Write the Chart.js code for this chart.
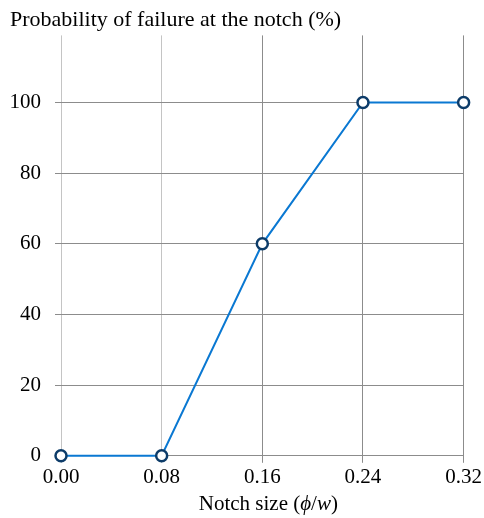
<!DOCTYPE html>
<html>
<head>
<meta charset="utf-8">
<script src="https://cdn.jsdelivr.net/npm/chart.js@4"></script>
<style>
  html, body { margin: 0; padding: 0; background: #fff; }
  #wrap { width: 484px; height: 518px; }
</style>
</head>
<body>
<div id="wrap"><canvas id="chart"></canvas></div>
<script>
// data
const notchSize = [0.00, 0.08, 0.16, 0.24, 0.32];
const failureProb = [0, 0, 60, 100, 100];
const yTicks = [0, 20, 40, 60, 80, 100];

const FONT = '"Liberation Serif", "DejaVu Serif", serif';
const SIZE = 21;

// x axis title with italic phi and w
const xTitlePlugin = {
  id: 'xTitle',
  afterDraw(chart) {
    const c = chart.ctx;
    const area = chart.chartArea;
    const up = SIZE + 'px ' + FONT, it = 'italic ' + SIZE + 'px ' + FONT;
    const parts = [
      { t: 'Notch size (', f: up },
      { t: 'ϕ', f: it },
      { t: '/', f: up },
      { t: 'w', f: it },
      { t: ')', f: up }
    ];
    c.save();
    let total = 0;
    parts.forEach(p => { c.font = p.f; p.w = c.measureText(p.t).width; total += p.w; });
    let x = (area.left + area.right) / 2 - total / 2 + 6;
    c.fillStyle = '#000';
    c.textBaseline = 'alphabetic';
    parts.forEach(p => { c.font = p.f; c.fillText(p.t, x, 510); x += p.w; });
    c.restore();
  }
};

new Chart(document.getElementById('chart'), {
  type: 'line',
  data: {
    datasets: [{
      data: notchSize.map((x, i) => ({ x, y: failureProb[i] })),
      borderColor: '#0a78d2',
      borderWidth: 2,
      pointRadius: 5.5,
      pointBorderWidth: 2.5,
      pointBackgroundColor: '#fff',
      pointBorderColor: '#0d3c69',
      tension: 0,
      clip: false
    }]
  },
  options: {
    responsive: true,
    maintainAspectRatio: false,
    animation: false,
    layout: { padding: { left: 10, right: 0, top: 0, bottom: 26 } },
    plugins: {
      legend: { display: false },
      tooltip: { enabled: false },
      title: {
        display: true,
        text: 'Probability of failure at the notch (%)',
        align: 'start',
        color: '#000',
        font: { family: FONT, size: 22, weight: 'normal' },
        padding: { top: 7, bottom: 2 }
      }
    },
    scales: {
      x: {
        type: 'linear',
        min: 0,
        max: 0.32,
        afterBuildTicks: s => { s.ticks = notchSize.map(v => ({ value: v })); },
        border: { display: false },
        grid: {
          color: ctx => (ctx.tick && ctx.tick.value < 0.1 ? '#c4c4c4' : '#8c8c8c'),
          lineWidth: 1,
          tickLength: 7
        },
        ticks: {
          color: '#000',
          padding: 2,
          maxRotation: 0,
          font: { family: FONT, size: SIZE },
          callback: v => Number(v).toFixed(2)
        }
      },
      y: {
        min: 0,
        max: 119,
        afterBuildTicks: s => { s.ticks = yTicks.map(v => ({ value: v })); },
        afterFit: s => { s.width = 51; },
        border: { display: false },
        grid: { color: '#8c8c8c', lineWidth: 1, tickLength: 6 },
        ticks: {
          color: '#000',
          padding: 14,
          font: { family: FONT, size: SIZE }
        }
      }
    }
  },
  plugins: [xTitlePlugin]
});
</script>
</body>
</html>
